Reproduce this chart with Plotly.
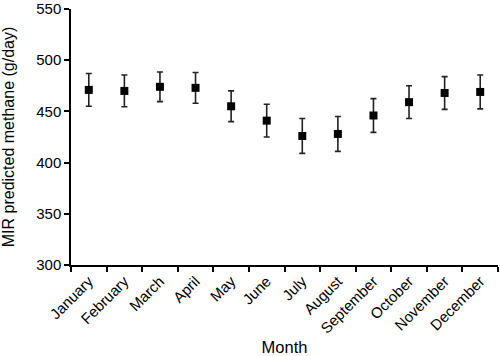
import plotly.graph_objects as go

months = ["January", "February", "March", "April", "May", "June", "July",
          "August", "September", "October", "November", "December"]
methane = [471, 470, 474, 473, 455, 441, 426, 428, 446, 459, 468, 469]
err = [16, 15.5, 14.5, 15, 15, 16, 17, 17, 16.5, 16, 16, 16.5]

fig = go.Figure(go.Scatter(
    x=months, y=methane, mode="markers",
    marker=dict(symbol="square", size=8, color="black"),
    error_y=dict(type="data", array=err, visible=True, color="#222222",
                 thickness=1.6, width=3),
    showlegend=False,
))

font = "Liberation Sans, Arial, sans-serif"
fig.update_layout(
    width=500, height=356,
    margin=dict(l=71, r=2, t=9, b=91),
    plot_bgcolor="white", paper_bgcolor="white",
    font=dict(family=font, size=15, color="black"),
)
fig.update_xaxes(
    type="category", range=[-0.5, 11.5], tickson="boundaries",
    showline=True, linecolor="black", linewidth=1.5,
    ticks="outside", ticklen=5, tickwidth=1.5, tickcolor="black",
    tickangle=-45, showgrid=False, zeroline=False, automargin=False,
    title=dict(text="Month", font=dict(size=16.5), standoff=10),
)
fig.update_yaxes(
    range=[300, 550], tickvals=[300, 350, 400, 450, 500, 550],
    showline=True, linecolor="black", linewidth=1.5,
    ticks="outside", ticklen=5, tickwidth=1.5, tickcolor="black",
    showgrid=False, zeroline=False, automargin=False,
    ticklabeloverflow="allow",
    title=dict(text="MIR predicted methane (g/day)", font=dict(size=16), standoff=20),
)
fig.write_html("out.html", config={"displayModeBar": False},
               post_script="document.body.style.margin='0';document.body.style.overflow='hidden';")
